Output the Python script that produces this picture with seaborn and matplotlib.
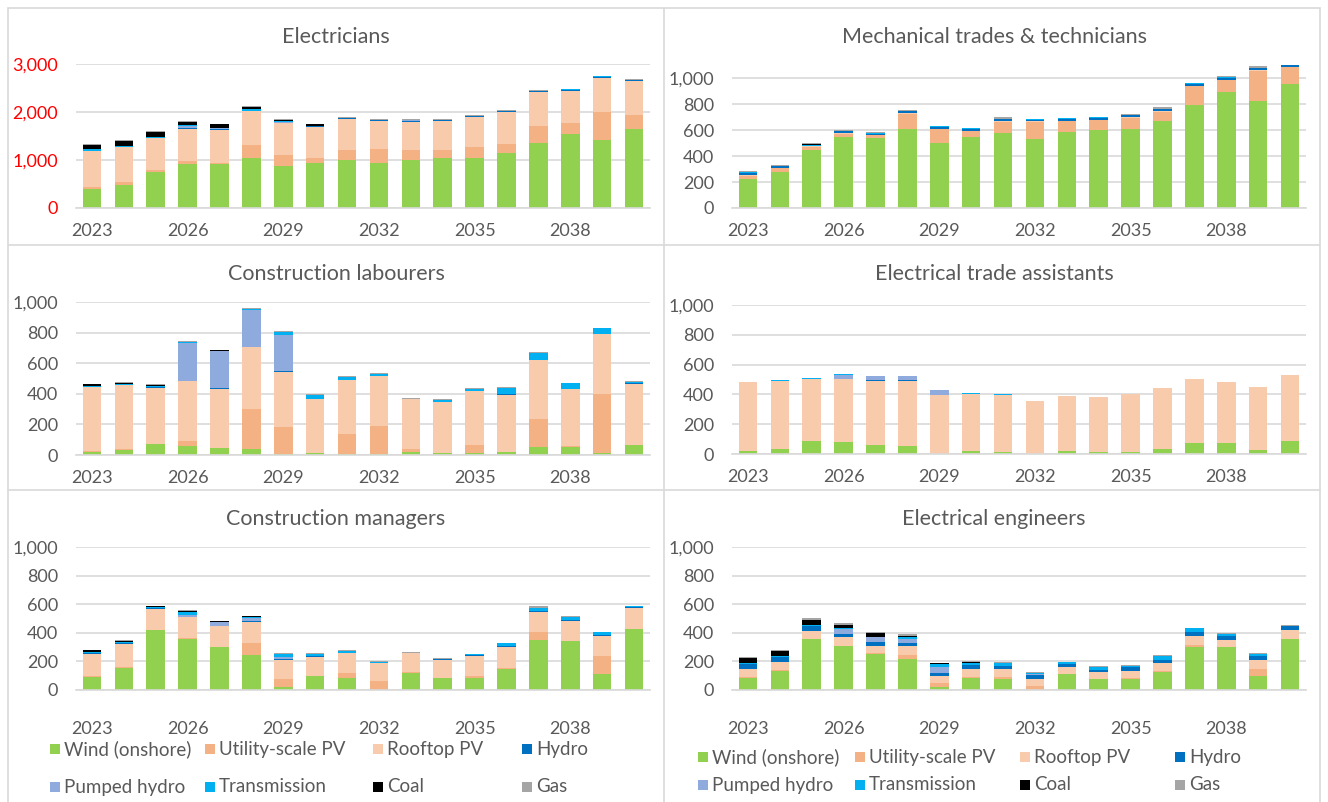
import numpy as np
import pandas as pd
import matplotlib
matplotlib.use("Agg")
import matplotlib.pyplot as plt
from matplotlib.lines import Line2D
from matplotlib.patches import Rectangle
import seaborn as sns

YEARS = list(range(2023, 2041))
TECHS = ["Wind (onshore)", "Utility-scale PV", "Rooftop PV", "Hydro",
         "Pumped hydro", "Transmission", "Coal", "Gas"]
COLORS = ["#92D050", "#F4B183", "#F8CBAD", "#0070C0",
          "#8FAADC", "#00B0F0", "#000000", "#A5A5A5"]

# Electricians
el_wind = [400, 470, 745, 915, 915, 1050, 880, 930, 995, 930, 1005, 1050, 1050, 1150, 1355, 1550, 1425, 1645]
el_util = [40, 65, 40, 70, 30, 270, 230, 120, 220, 305, 210, 165, 230, 190, 360, 215, 575, 285]
el_roof = [740, 730, 665, 665, 685, 695, 655, 630, 645, 570, 585, 590, 610, 655, 700, 680, 710, 710]
el_hydro = [15, 15, 10, 15, 10, 15, 15, 20, 10, 20, 15, 20, 20, 20, 15, 15, 15, 20]
el_pumped = [0, 0, 0, 40, 30, 0, 15, 0, 0, 0, 10, 0, 0, 0, 0, 0, 0, 10]
el_trans = [25, 20, 20, 15, 0, 25, 10, 10, 10, 15, 0, 10, 10, 10, 10, 10, 15, 0]
el_coal = [100, 95, 95, 70, 70, 40, 20, 30, 5, 0, 0, 0, 0, 0, 0, 0, 0, 0]
el_gas = [20, 25, 25, 20, 20, 20, 20, 10, 20, 20, 20, 15, 20, 20, 10, 15, 15, 15]

# Mechanical trades & technicians
me_wind = [225, 281, 448, 545, 537, 611, 504, 545, 575, 532, 588, 601, 606, 673, 793, 895, 821, 959]
me_util = [25, 24, 22, 28, 22, 115, 103, 48, 88, 130, 80, 75, 90, 67, 145, 88, 238, 125]
me_roof = [8, 2, 5, 5, 5, 5, 5, 3, 5, 5, 5, 5, 5, 5, 5, 5, 5, 3]
me_hydro = [10, 15, 5, 15, 10, 15, 15, 15, 15, 12, 12, 15, 15, 15, 15, 15, 12, 12]
me_pumped = [0] * 18
me_trans = [10, 3, 3, 2, 5, 3, 2, 2, 5, 5, 5, 2, 2, 5, 3, 5, 5, 2]
me_coal = [0, 0, 10, 0, 0, 0, 0, 0, 0, 0, 0, 0, 0, 0, 0, 0, 0, 0]
me_gas = [5, 5, 5, 5, 3, 5, 5, 3, 10, 5, 5, 5, 5, 10, 5, 10, 10, 5]

# Construction labourers
cl_wind = [18, 33, 70, 57, 48, 37, 4, 15, 9, 4, 22, 10, 13, 22, 55, 55, 13, 66]
cl_util = [8, 6, 0, 37, 0, 265, 182, 0, 127, 186, 17, 5, 50, 0, 181, 3, 385, 0]
cl_roof = [416, 416, 368, 387, 385, 403, 357, 353, 354, 324, 329, 329, 353, 371, 387, 375, 396, 398]
cl_hydro = [5, 3, 5, 0, 3, 0, 5, 0, 0, 0, 0, 0, 0, 3, 0, 0, 0, 5]
cl_pumped = [0, 0, 0, 248, 245, 242, 237, 0, 0, 0, 0, 0, 0, 0, 0, 0, 0, 0]
cl_trans = [5, 5, 10, 10, 0, 10, 20, 27, 22, 15, 0, 15, 15, 45, 44, 37, 33, 10]
cl_coal = [10, 10, 5, 0, 5, 0, 0, 0, 0, 0, 0, 0, 0, 0, 0, 0, 0, 0]
cl_gas = [3, 5, 5, 3, 2, 5, 5, 3, 5, 5, 5, 5, 5, 3, 3, 3, 3, 3]

# Electrical trade assistants
ta_wind = [20, 36, 90, 81, 61, 52, 0, 20, 16, 0, 22, 16, 16, 36, 74, 74, 25, 90]
ta_util = [0] * 18
ta_roof = [461, 456, 411, 420, 431, 440, 393, 384, 382, 355, 365, 366, 386, 407, 429, 411, 427, 438]
ta_hydro = [3, 0, 0, 0, 2, 2, 2, 0, 0, 0, 0, 0, 0, 0, 0, 0, 0, 0]
ta_pumped = [0, 0, 0, 29, 32, 32, 32, 0, 0, 0, 0, 0, 0, 0, 0, 0, 0, 0]
ta_trans = [2, 5, 7, 5, 0, 0, 0, 5, 5, 0, 0, 0, 0, 0, 0, 0, 0, 0]
ta_coal = [0] * 18
ta_gas = [0, 0, 0, 0, 0, 0, 0, 3, 0, 0, 0, 0, 0, 0, 0, 0, 0, 0]

# Construction managers
cm_wind = [91, 156, 419, 356, 298, 247, 21, 100, 84, 0, 121, 81, 86, 147, 349, 342, 112, 426]
cm_util = [7, 3, 0, 11, 3, 83, 58, 0, 37, 65, 7, 5, 14, 4, 58, 0, 125, 0]
cm_roof = [155, 160, 146, 140, 146, 149, 130, 133, 135, 121, 128, 123, 140, 151, 137, 142, 144, 146]
cm_hydro = [6, 10, 8, 5, 3, 5, 5, 5, 5, 5, 5, 5, 5, 5, 5, 5, 5, 7]
cm_pumped = [0, 0, 0, 10, 25, 22, 15, 0, 0, 0, 0, 0, 0, 0, 0, 0, 0, 0]
cm_trans = [10, 8, 8, 25, 0, 5, 25, 15, 15, 7, 0, 5, 5, 20, 25, 20, 20, 8]
cm_coal = [8, 8, 5, 7, 5, 5, 0, 0, 0, 0, 0, 0, 0, 0, 0, 0, 0, 0]
cm_gas = [3, 3, 3, 5, 3, 3, 5, 5, 5, 3, 4, 2, 3, 3, 10, 5, 3, 3]

# Electrical engineers
ee_wind = [83, 136, 354, 306, 255, 214, 18, 87, 76, 0, 109, 74, 74, 129, 298, 298, 97, 358]
ee_util = [5, 4, 0, 5, 3, 32, 30, 5, 16, 25, 4, 2, 9, 5, 19, 0, 53, 2]
ee_roof = [61, 58, 57, 57, 52, 60, 51, 53, 53, 52, 47, 47, 53, 56, 62, 53, 58, 58]
ee_hydro = [30, 32, 35, 23, 26, 23, 23, 27, 23, 27, 25, 20, 24, 23, 28, 24, 28, 28]
ee_pumped = [0, 0, 0, 34, 34, 27, 41, 0, 0, 8, 0, 0, 0, 0, 0, 0, 0, 0]
ee_trans = [12, 7, 9, 7, 0, 14, 16, 19, 23, 8, 9, 19, 11, 23, 25, 18, 18, 3]
ee_coal = [34, 34, 35, 23, 28, 9, 7, 4, 0, 0, 0, 0, 0, 0, 0, 0, 0, 0]
ee_gas = [5, 12, 11, 12, 9, 10, 5, 5, 7, 5, 3, 4, 5, 9, 5, 9, 5, 9]

W, H = 1328, 802
GRID = "#D9D9D9"
TEXT = "#595959"

sns.set_style("white")
plt.rcParams["font.family"] = ["Lato", "DejaVu Sans"]

fig = plt.figure(figsize=(W / 100, H / 100), dpi=100)


def px_axes(left, top, right, bottom):
    return fig.add_axes([left / W, 1 - bottom / H, (right - left) / W, (bottom - top) / H])


def draw_panel(box, title, title_xy, series, ymax, yticks, ytick_color, xpad):
    ax = px_axes(*box)
    df = pd.DataFrame({
        "year": np.tile(YEARS, len(TECHS)),
        "tech": np.repeat(TECHS, len(YEARS)),
        "jobs": np.concatenate(series).astype(float),
    })
    # seaborn puts the first hue level on top of the stack, so reverse the order
    sns.histplot(data=df, x="year", weights="jobs", hue="tech",
                 hue_order=TECHS[::-1], palette=dict(zip(TECHS, COLORS)),
                 multiple="stack", discrete=True, shrink=0.58, alpha=1,
                 linewidth=0, legend=False, ax=ax)
    ax.set_xlim(2022.5, 2040.5)
    ax.set_ylim(0, ymax)
    ax.set_xticks(YEARS[::3])
    ax.set_yticks(yticks)
    ax.set_yticklabels([f"{v:,}" for v in yticks])
    ax.set_xlabel("")
    ax.set_ylabel("")
    ax.yaxis.grid(True, color=GRID, lw=1.2)
    ax.set_axisbelow(True)
    for side in ["top", "right", "left"]:
        ax.spines[side].set_visible(False)
    ax.spines["bottom"].set_color(GRID)
    ax.spines["bottom"].set_linewidth(1.2)
    ax.tick_params(axis="x", length=0, pad=xpad, labelsize=13, labelcolor=TEXT)
    ax.tick_params(axis="y", length=0, pad=13, labelsize=13, labelcolor=ytick_color)
    fig.text(title_xy[0] / W, 1 - title_xy[1] / H, title, ha="center", va="center",
             fontsize=15.5, color=TEXT)
    return ax


k1000 = [0, 200, 400, 600, 800, 1000]

draw_panel((76, 64, 650, 208), "Electricians", (336, 37),
           [el_wind, el_util, el_roof, el_hydro, el_pumped, el_trans, el_coal, el_gas],
           3000, [0, 1000, 2000, 3000], "#FF0000", 11)
draw_panel((732, 64, 1306, 208), "Mechanical trades & technicians", (994, 37),
           [me_wind, me_util, me_roof, me_hydro, me_pumped, me_trans, me_coal, me_gas],
           1110, k1000, TEXT, 11)
draw_panel((76, 302, 650, 455), "Construction labourers", (336, 274),
           [cl_wind, cl_util, cl_roof, cl_hydro, cl_pumped, cl_trans, cl_coal, cl_gas],
           1000, k1000, TEXT, 11)
draw_panel((732, 305, 1306, 454), "Electrical trade assistants", (994, 274),
           [ta_wind, ta_util, ta_roof, ta_hydro, ta_pumped, ta_trans, ta_coal, ta_gas],
           1000, k1000, TEXT, 11)
draw_panel((76, 547, 650, 690), "Construction managers", (336, 519),
           [cm_wind, cm_util, cm_roof, cm_hydro, cm_pumped, cm_trans, cm_coal, cm_gas],
           1000, k1000, TEXT, 22)
draw_panel((732, 547, 1306, 690), "Electrical engineers", (994, 519),
           [ee_wind, ee_util, ee_roof, ee_hydro, ee_pumped, ee_trans, ee_coal, ee_gas],
           1000, k1000, TEXT, 22)


def draw_legend(xs, ys):
    for i, (tech, color) in enumerate(zip(TECHS, COLORS)):
        x, y = xs[i % 4], ys[i // 4]
        fig.add_artist(Rectangle((x / W, 1 - (y + 5) / H), 10 / W, 10 / H,
                                 transform=fig.transFigure, facecolor=color,
                                 edgecolor="none"))
        fig.text((x + 14) / W, 1 - y / H, tech, ha="left", va="center",
                 fontsize=13.5, color=TEXT)


draw_legend([50, 205, 373, 522], [749, 787])
draw_legend([698, 855, 1020, 1175], [757, 785])

# panel borders
for x in [8, 663.5, 1320]:
    fig.add_artist(Line2D([x / W, x / W], [1 - 8 / H, 0], color=GRID, lw=1.2))
for y in [8, 245, 490]:
    fig.add_artist(Line2D([8 / W, 1320 / W], [1 - y / H, 1 - y / H], color=GRID, lw=1.2))

fig.savefig("out.png", dpi=100)
